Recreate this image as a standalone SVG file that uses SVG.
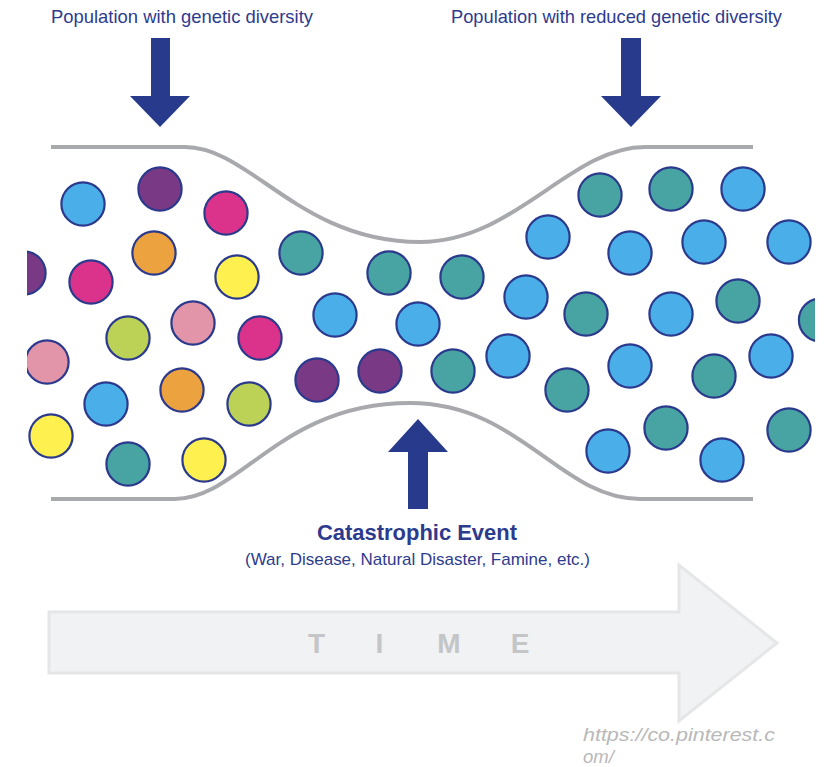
<svg xmlns="http://www.w3.org/2000/svg" width="825" height="767" viewBox="0 0 825 767">
<style>
  .lbl{font-family:"Liberation Sans",Arial,sans-serif;fill:#2d3b8e}
  .c circle{stroke:#2b3a8c;stroke-width:2.2}
  .bl{fill:#4aaee8}.te{fill:#48a4a3}.pu{fill:#7a3985}.ma{fill:#db338b}
  .or{fill:#eba23f}.ye{fill:#fdf04f}.li{fill:#bcd257}.pk{fill:#e295a9}
  .tube{fill:none;stroke:#a8a9ac;stroke-width:4}
  .arr{fill:#283a8b}
  .time{font-family:"Liberation Sans",Arial,sans-serif;font-weight:bold;font-size:28px;fill:#c4c5c7;text-anchor:middle}
  .wm{font-family:"Liberation Sans",Arial,sans-serif;font-style:italic;font-size:18.5px;fill:#b8b8b8}
</style>
<defs>
  <clipPath id="clip"><rect x="27" y="0" width="788" height="767"/></clipPath>
</defs>
<rect width="825" height="767" fill="#ffffff"/>

<g id="tube">
  <path class="tube" d="M51,147 H185 C250,147 300,242 420,242 C515,242 570,147 645,147 H753"/>
  <path class="tube" d="M51,499 H175 C240,499 280,403 410,403 C520,403 560,499 640,499 H753"/>
</g>

<g id="population" class="c" clip-path="url(#clip)">
  <circle class="bl" cx="83" cy="204" r="21.6"/>
  <circle class="pu" cx="160" cy="189" r="21.6"/>
  <circle class="ma" cx="226" cy="213" r="21.6"/>
  <circle class="pu" cx="24" cy="273" r="21.6"/>
  <circle class="ma" cx="91" cy="282" r="21.6"/>
  <circle class="or" cx="154" cy="253" r="21.6"/>
  <circle class="ye" cx="237" cy="277" r="21.6"/>
  <circle class="te" cx="301" cy="253" r="21.6"/>
  <circle class="te" cx="389" cy="273" r="21.6"/>
  <circle class="li" cx="128" cy="338" r="21.6"/>
  <circle class="pk" cx="193" cy="323" r="21.6"/>
  <circle class="ma" cx="260" cy="338" r="21.6"/>
  <circle class="bl" cx="335" cy="315" r="21.6"/>
  <circle class="bl" cx="418" cy="324" r="21.6"/>
  <circle class="pk" cx="47" cy="362" r="21.6"/>
  <circle class="bl" cx="106" cy="404" r="21.6"/>
  <circle class="or" cx="182" cy="390" r="21.6"/>
  <circle class="li" cx="249" cy="404" r="21.6"/>
  <circle class="pu" cx="317" cy="380" r="21.6"/>
  <circle class="pu" cx="380" cy="371" r="21.6"/>
  <circle class="ye" cx="51" cy="436" r="21.6"/>
  <circle class="te" cx="128" cy="464" r="21.6"/>
  <circle class="ye" cx="204" cy="460" r="21.6"/>
  <circle class="te" cx="600" cy="195" r="21.6"/>
  <circle class="te" cx="671" cy="189" r="21.6"/>
  <circle class="bl" cx="743" cy="189" r="21.6"/>
  <circle class="bl" cx="548" cy="237" r="21.6"/>
  <circle class="bl" cx="630" cy="253" r="21.6"/>
  <circle class="bl" cx="704" cy="242" r="21.6"/>
  <circle class="bl" cx="789" cy="242" r="21.6"/>
  <circle class="te" cx="462" cy="277" r="21.6"/>
  <circle class="bl" cx="526" cy="297" r="21.6"/>
  <circle class="te" cx="586" cy="314" r="21.6"/>
  <circle class="bl" cx="671" cy="314" r="21.6"/>
  <circle class="te" cx="738" cy="301" r="21.6"/>
  <circle class="te" cx="820.5" cy="320" r="21.6"/>
  <circle class="te" cx="453" cy="371" r="21.6"/>
  <circle class="bl" cx="508" cy="356" r="21.6"/>
  <circle class="te" cx="567" cy="390" r="21.6"/>
  <circle class="bl" cx="630" cy="366" r="21.6"/>
  <circle class="te" cx="714" cy="376" r="21.6"/>
  <circle class="bl" cx="771" cy="356" r="21.6"/>
  <circle class="bl" cx="608" cy="451" r="21.6"/>
  <circle class="te" cx="666" cy="428" r="21.6"/>
  <circle class="bl" cx="722" cy="460" r="21.6"/>
  <circle class="te" cx="789" cy="430" r="21.6"/>
</g>

<g id="label-before">
  <text class="lbl" x="51" y="23" font-size="18.5" textLength="262" lengthAdjust="spacingAndGlyphs">Population with genetic diversity</text>
  <polygon class="arr" points="151,38 170,38 170,96 190,96 160,127 130,96 151,96"/>
</g>

<g id="label-after">
  <text class="lbl" x="451" y="23" font-size="18.5" textLength="331" lengthAdjust="spacingAndGlyphs">Population with reduced genetic diversity</text>
  <polygon class="arr" points="621,38 641,38 641,96 661,96 631,127 601,96 621,96"/>
</g>

<g id="event">
  <polygon class="arr" points="408,509 428,509 428,452 448,452 418,419 388,452 408,452"/>
  <text class="lbl" x="317" y="540" font-size="22" font-weight="bold" textLength="200" lengthAdjust="spacingAndGlyphs">Catastrophic Event</text>
  <text class="lbl" x="245" y="565" font-size="17" textLength="345" lengthAdjust="spacingAndGlyphs">(War, Disease, Natural Disaster, Famine, etc.)</text>
</g>

<g id="time-arrow">
  <polygon points="49,612 679,612 679,565 777,643 679,721 679,673 49,673" fill="#f1f2f3" stroke="#e5e6e7" stroke-width="3" stroke-linejoin="miter"/>
  <text class="time" x="316.5" y="653">T</text>
  <text class="time" x="379.5" y="653">I</text>
  <text class="time" x="449" y="653">M</text>
  <text class="time" x="520" y="653">E</text>
</g>

<g id="watermark">
  <text class="wm" x="583" y="741" textLength="192" lengthAdjust="spacingAndGlyphs">https://co.pinterest.c</text>
  <text class="wm" x="583" y="763">om/</text>
</g>
</svg>
